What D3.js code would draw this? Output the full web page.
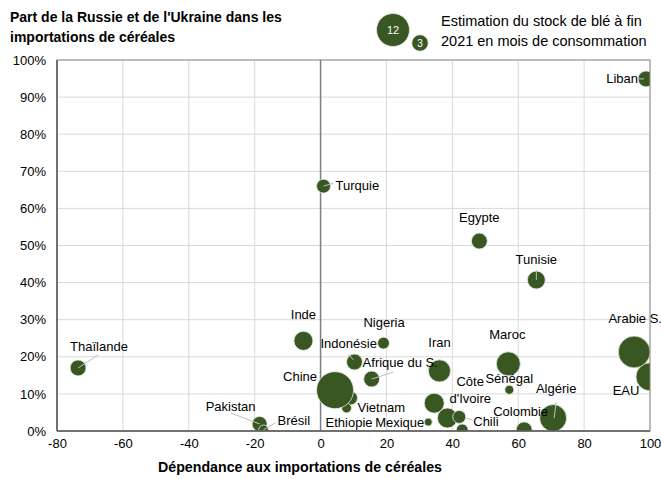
<!DOCTYPE html>
<html><head><meta charset="utf-8">
<script src="https://cdn.jsdelivr.net/npm/d3@7"></script>
<style>body{margin:0;background:#fff;}svg{display:block;font-family:"Liberation Sans",Arial,sans-serif;}</style>
</head><body><svg id="c" width="661" height="479"></svg>
<script>
// ---- data ----
const countries = ["Liban","Turquie","Egypte","Tunisie","Thaïlande","Inde","Nigeria","Indonésie","Afrique du S.","Vietnam","Ethiopie","Chine","Mexique","Côte d'Ivoire","Iran","","Chili","","Colombie","Algérie","Sénégal","Maroc","EAU","Arabie S.","Pakistan","Brésil"];
const dependance = [98.8,0.9,48.2,65.5,-73.6,-5.2,19.1,10.3,15.5,9.1,7.9,4.4,32.7,34.5,36.1,38.5,42.1,43.0,61.8,70.6,57.3,57.0,100,95.2,-18.5,-17.3];
const partRussieUkraine = [94.9,66.0,51.2,40.7,17.0,24.3,23.7,18.6,14.0,8.9,6.2,11.0,2.4,7.5,16.2,3.5,3.8,0.3,0.3,3.5,11.1,18.1,14.6,21.3,1.9,0.3];
const stockMois = [2.8,2.15,2.8,3.55,2.8,4.0,1.55,2.8,2.8,2.15,1.05,15.1,0.7,4.4,5.4,4.4,1.85,1.55,2.8,8.0,0.9,6.35,8.7,11.2,2.5,1.05];
const xTicks = [-80,-60,-40,-20,0,20,40,60,80,100];
const yTicks = [0,10,20,30,40,50,60,70,80,90,100];
const legendValues = [12,3];
const titleLines = ["Part de la Russie et de l'Ukraine dans les","importations de céréales"];
const legendLines = ["Estimation du stock de blé à fin","2021 en mois de consommation"];
const xTitle = "Dépendance aux importations de céréales";

// ---- label layout (offsets in px from bubble centre: dx, dy, anchor, leader) ----
const labelLayout = {
  "Liban":[-8,0,"end",[[-2,0],[-8,0]]],
  "Turquie":[12,-1,"start",[[0,0],[10,-3]]],
  "Egypte":[0,-24,"middle",null],
  "Tunisie":[0,-21,"middle",[[0,0],[0,-10]]],
  "Thaïlande":[-8,-21,"start",[[0,0],[20,-13]]],
  "Inde":[0,-26,"middle",null],
  "Nigeria":[-20,-21,"start",null],
  "Indonésie":[-34,-19,"start",[[-1,-2],[-6,-8]]],
  "Afrique du S.":[-9,-17,"start",[[0,0],[22,-7]]],
  "Chine":[-18,-14,"end",null],
  "Vietnam":[7,9,"start",null],
  "Ethiopie":[-21,14,"start",null],
  "Mexique":[-4,0,"end",null],
  "Côte d'Ivoire":[36,-17,"middle",null],
  "Iran":[0,-28,"middle",null],
  "Chili":[14,5,"start",[[6,1],[13,3]]],
  "Colombie":[-31,-18,"start",null],
  "Algérie":[3,-30,"middle",[[1,0],[3,-16]]],
  "Sénégal":[0,-11,"middle",null],
  "Maroc":[-1,-29,"middle",null],
  "Arabie S.":[1,-34,"middle",null],
  "EAU":[-24,14,"middle",null],
  "Pakistan":[-29,-18,"middle",[[0,0],[-29,-11]]],
  "Brésil":[14,-9,"start",[[0,0],[12,-7]]]
};

const svg = d3.select("#c");
const m = {l:57, r:650, t:60, b:431};
const green = "#385723";
const x = d3.scaleLinear().domain([-80,100]).range([m.l,m.r]);
const y = d3.scaleLinear().domain([0,100]).range([m.b,m.t]);
const r = d3.scaleSqrt().domain([0,12]).range([0,16.5]);

// grid
svg.append("g").selectAll("line").data(yTicks).join("line")
  .attr("x1",m.l).attr("x2",m.r).attr("y1",d=>y(d)).attr("y2",d=>y(d))
  .attr("stroke","#d9d9d9").attr("stroke-width",1);
svg.append("g").selectAll("line").data(xTicks).join("line")
  .attr("x1",d=>x(d)).attr("x2",d=>x(d)).attr("y1",m.t).attr("y2",m.b)
  .attr("stroke","#d9d9d9").attr("stroke-width",1);
// zero line
svg.append("line").attr("x1",x(0)).attr("x2",x(0)).attr("y1",m.t).attr("y2",m.b)
  .attr("stroke","#7f7f7f").attr("stroke-width",1.5);

// axes
const xAxis = svg.append("g").attr("transform",`translate(0,${m.b})`)
  .call(d3.axisBottom(x).tickValues(xTicks).tickSize(0).tickPadding(8).tickFormat(d=>String(d)));
const yAxis = svg.append("g").attr("transform",`translate(${m.l},0)`)
  .call(d3.axisLeft(y).tickValues(yTicks).tickSize(0).tickPadding(11).tickFormat(d=>d+"%"));
[xAxis,yAxis].forEach(a=>{a.select(".domain").remove();a.selectAll("text").attr("font-size","13px").attr("fill","#000").attr("font-family","Liberation Sans, Arial, sans-serif");});

// clip
svg.append("clipPath").attr("id","clip").append("rect")
  .attr("x",m.l).attr("y",m.t).attr("width",m.r-m.l).attr("height",m.b-m.t);

const data = countries.map((c,i)=>({name:c,dx:dependance[i],py:partRussieUkraine[i],s:stockMois[i]}));

const g = svg.append("g").attr("clip-path","url(#clip)");
g.selectAll("circle").data(data).join("circle")
  .attr("cx",d=>x(d.dx)).attr("cy",d=>y(d.py)).attr("r",d=>r(d.s))
  .attr("fill",green).attr("stroke","#e8eee0").attr("stroke-width",0.8);

// frame
svg.append("rect").attr("x",m.l).attr("y",m.t).attr("width",m.r-m.l).attr("height",m.b-m.t)
  .attr("fill","none").attr("stroke","#8c8c8c").attr("stroke-width",1);
svg.append("line").attr("x1",m.l).attr("x2",m.l).attr("y1",m.t).attr("y2",m.b).attr("stroke","#595959").attr("stroke-width",1.5);
svg.append("line").attr("x1",m.l).attr("x2",m.r).attr("y1",m.b).attr("y2",m.b).attr("stroke","#595959").attr("stroke-width",1.5);

// leaders & labels
const lab = svg.append("g").attr("font-size","13px").attr("fill","#000");
data.filter(d=>d.name && labelLayout[d.name]).forEach(d=>{
  const L = labelLayout[d.name];
  const cx = x(d.dx), cy = y(d.py);
  if(L[3]){
    lab.append("line").attr("x1",cx+L[3][0][0]).attr("y1",cy+L[3][0][1])
      .attr("x2",cx+L[3][1][0]).attr("y2",cy+L[3][1][1])
      .attr("stroke","#bfbfbf").attr("stroke-width",1);
  }
  if(d.name==="Côte d'Ivoire"){
    const t = lab.append("text").attr("text-anchor","middle");
    t.append("tspan").attr("x",cx+L[0]).attr("y",cy+L[1]).text("Côte");
    t.append("tspan").attr("x",cx+L[0]).attr("y",cy+L[1]+17).text("d'Ivoire");
  } else {
    lab.append("text").attr("x",cx+L[0]).attr("y",cy+L[1]).attr("dy","0.35em")
      .attr("text-anchor",L[2]).text(d.name);
  }
});

// title
svg.append("text").attr("x",10).attr("y",22).attr("font-size","14px").attr("font-weight","bold")
  .selectAll("tspan").data(titleLines).join("tspan").attr("x",10).attr("dy",(d,i)=>i?20:0).text(d=>d);

// x title
svg.append("text").attr("x",300).attr("y",472).attr("text-anchor","middle")
  .attr("font-size","14.2px").attr("font-weight","bold").text(xTitle);

// legend
const lg = svg.append("g");
const lpos = [[393,30],[420,43]];
legendValues.forEach((v,i)=>{
  lg.append("circle").attr("cx",lpos[i][0]).attr("cy",lpos[i][1]).attr("r",r(v))
    .attr("fill",green).attr("stroke","#e8eee0").attr("stroke-width",0.8);
  lg.append("text").attr("x",lpos[i][0]).attr("y",lpos[i][1]).attr("dy","0.35em")
    .attr("text-anchor","middle").attr("fill","#fff").attr("font-size",i?"10px":"11px").text(v);
});
lg.append("text").attr("font-size","14.5px").selectAll("tspan").data(legendLines).join("tspan")
  .attr("x",441).attr("y",(d,i)=>26+i*20).text(d=>d);
</script></body></html>
